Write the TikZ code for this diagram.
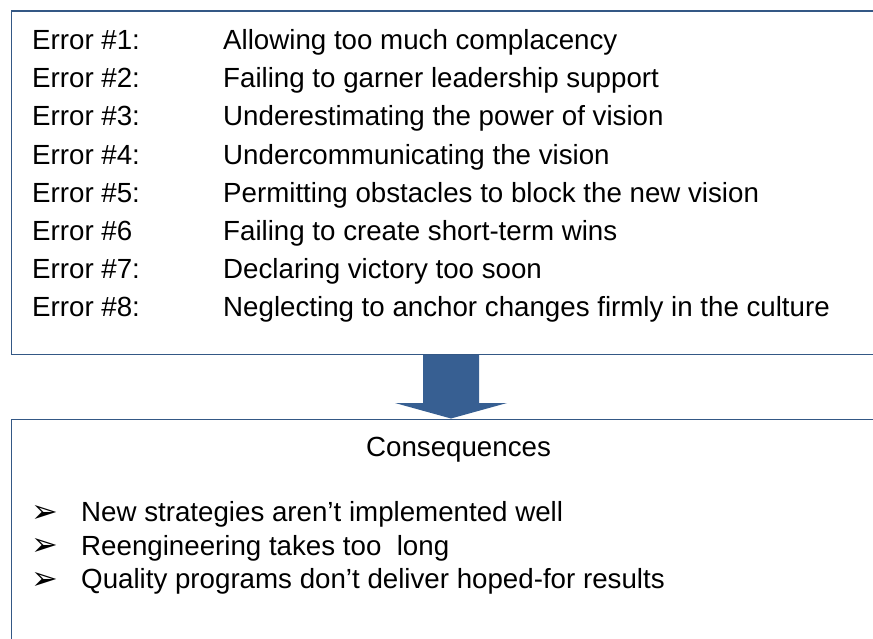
\documentclass[tikz,border=0pt]{standalone}
\usepackage{fontspec}
\setmainfont{Liberation Sans}
\newfontfamily\dingfont{DejaVu Sans}
\usetikzlibrary{positioning}
\definecolor{boxblue}{HTML}{345885}
\definecolor{arrowblue}{HTML}{375F92}

\begin{document}
\begin{tikzpicture}[x=1pt,y=-1pt,font=\fontsize{27.7}{32}\selectfont,
  frame/.style={draw=boxblue,line width=1.7pt,inner sep=0pt},
  txt/.style={anchor=base west,inner sep=0pt}]
\useasboundingbox (0,0) rectangle (873,639);
\clip (0,0) rectangle (873,639);
% the two boxes run off the right (and lower) edge
\node[frame,anchor=north west,minimum width=880pt,minimum height=343pt] (errbox) at (10.5,10.5) {};
\node[frame,anchor=north west,minimum width=880pt,minimum height=240pt] (conbox) at (10.5,418.5) {};
% block arrow between them
\fill[arrowblue] (423,0 |- errbox.south) -- (479,0 |- errbox.south) -- (479,403) -- (507,403)
  -- (451,0 |- conbox.north) -- (395,403) -- (423,403) -- cycle;
% the eight errors
\foreach \lab/\what [count=\k from 0] in {
  Error \#1:/Allowing too much complacency,
  Error \#2:/Failing to garner leadership support,
  Error \#3:/Underestimating the power of vision,
  Error \#4:/Undercommunicating the vision,
  Error \#5:/Permitting obstacles to block the new vision,
  Error \#6/Failing to create short-term wins,
  Error \#7:/Declaring victory too soon,
  Error \#8:/Neglecting to anchor changes firmly in the culture}{
  \node[txt] (err\k) at (32,49.5+38.2*\k) {\lab};
  \node[txt] (what\k) at (223,49.5+38.2*\k) {\what};
}
% consequences
\node[anchor=base,inner sep=0pt] (conhead) at (458.5,456) {Consequences};
\foreach \what [count=\k from 0] in {
  New strategies aren’t implemented well,
  Reengineering takes too\ \ long,
  Quality programs don’t deliver hoped-for results}{
  \node[txt] (bul\k) at (31,522+33.5*\k) {\dingfont\fontsize{32}{34}\selectfont ➢};
  \node[txt] (item\k) at (81,521.5+33.5*\k) {\what};
}
\end{tikzpicture}
\end{document}
